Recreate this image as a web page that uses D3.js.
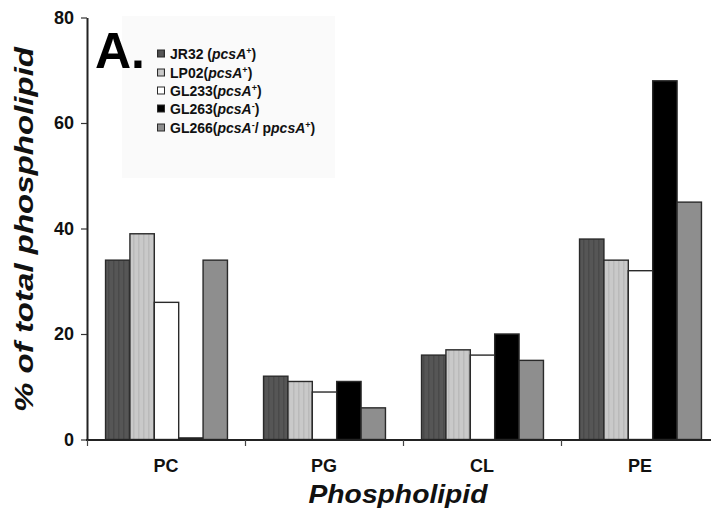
<!DOCTYPE html>
<html>
<head>
<meta charset="utf-8">
<script src="https://cdn.jsdelivr.net/npm/d3@7"></script>
<style>
  html, body { margin: 0; padding: 0; background: #fff; }
  svg { display: block; font-family: "Liberation Sans", Arial, sans-serif; }
</style>
</head>
<body>
<svg id="chart" width="711" height="518"></svg>
<script>
const categories = ["PC", "PG", "CL", "PE"];
const seriesNames = ["JR32", "LP02", "GL233", "GL263", "GL266"];
const JR32  = [34, 12, 16, 38];
const LP02  = [39, 11, 17, 34];
const GL233 = [26, 9, 16, 32];
const GL263 = [0.3, 11, 20, 68];
const GL266 = [34, 6, 15, 45];
const seriesValues = [JR32, LP02, GL233, GL263, GL266];
const yTicks = [0, 20, 40, 60, 80];
const legendLabels = [
  [{t:"JR32 ("}, {t:"pcsA", i:true}, {t:"+", s:true}, {t:")"}],
  [{t:"LP02("}, {t:"pcsA", i:true}, {t:"+", s:true}, {t:")"}],
  [{t:"GL233("}, {t:"pcsA", i:true}, {t:"+", s:true}, {t:")"}],
  [{t:"GL263("}, {t:"pcsA", i:true}, {t:"-", s:true}, {t:")"}],
  [{t:"GL266("}, {t:"pcsA", i:true}, {t:"-", s:true}, {t:"/ p"}, {t:"pcsA", i:true}, {t:"+", s:true}, {t:")"}]
];
const fills = ["url(#pDark)", "url(#pLight)", "#ffffff", "#000000", "url(#pMid)"];

const svg = d3.select("#chart");
const defs = svg.append("defs");
function stripe(id, base, line) {
  const p = defs.append("pattern").attr("id", id).attr("patternUnits", "userSpaceOnUse")
    .attr("width", 5).attr("height", 5);
  p.append("rect").attr("width", 5).attr("height", 5).attr("fill", base);
  if (line) p.append("rect").attr("x", 3).attr("width", 1.5).attr("height", 5).attr("fill", line);
}
stripe("pDark", "#565656", "#4a4a4a");
stripe("pLight", "#c9c9c9", "#bababa");
stripe("pMid", "#8e8e8e", null);

const x0 = d3.scaleBand().domain(categories).range([87.5, 719.5]).paddingInner(0).paddingOuter(0);
const x1 = d3.scaleBand().domain(seriesNames).range([0, x0.bandwidth()]).paddingInner(0).paddingOuter(0.74);
const y = d3.scaleLinear().domain([0, 80]).range([439.5, 17.5]);

// faint legend backdrop
svg.append("rect").attr("x", 122).attr("y", 16).attr("width", 213).attr("height", 162).attr("fill", "#fafafa");

// bars
const g = svg.append("g");
seriesNames.forEach((s, si) => {
  g.selectAll(null).data(seriesValues[si]).enter().append("rect")
    .attr("x", (d, i) => x0(categories[i]) + x1(s))
    .attr("y", d => y(d))
    .attr("width", x1.bandwidth())
    .attr("height", d => y(0) - y(d))
    .attr("fill", fills[si])
    .attr("stroke", "#2a2a2a")
    .attr("stroke-width", 1.4);
});

// y axis
const yAxis = svg.append("g").attr("transform", "translate(87,0)")
  .call(d3.axisLeft(y).tickValues(yTicks).tickSize(6).tickPadding(7).tickSizeOuter(0));
yAxis.select(".domain").attr("stroke", "#222").attr("stroke-width", 2);
yAxis.selectAll(".tick line").attr("stroke", "#333").attr("stroke-width", 1.2);
yAxis.selectAll(".tick text").attr("font-size", 18).attr("font-weight", "bold").attr("fill", "#111")
  .attr("font-family", "Liberation Sans, Arial, sans-serif");

// x axis
const xAxisG = svg.append("g").attr("transform", "translate(0,440)");
xAxisG.append("line").attr("x1", 86).attr("x2", 711).attr("y1", 0).attr("y2", 0)
  .attr("stroke", "#222").attr("stroke-width", 2);
xAxisG.selectAll(".xt").data(categories).enter().append("line")
  .attr("x1", d => x0(d)).attr("x2", d => x0(d)).attr("y1", 0).attr("y2", 6)
  .attr("stroke", "#444").attr("stroke-width", 1.2);
xAxisG.selectAll(".xl").data(categories).enter().append("text")
  .attr("x", d => x0(d) + x0.bandwidth() / 2 - 0.5)
  .attr("y", 32)
  .attr("text-anchor", "middle")
  .attr("font-size", 18).attr("font-weight", "bold").attr("fill", "#111")
  .text(d => d);

// axis titles
svg.append("text").attr("x", 398).attr("y", 503).attr("text-anchor", "middle")
  .attr("font-size", 26).attr("font-weight", "bold").attr("font-style", "italic").attr("fill", "#111")
  .attr("textLength", 179).attr("lengthAdjust", "spacingAndGlyphs")
  .text("Phospholipid");
svg.append("text").attr("transform", "translate(33,229.5) rotate(-90)").attr("text-anchor", "middle")
  .attr("font-size", 25).attr("font-weight", "bold").attr("font-style", "italic").attr("fill", "#111")
  .attr("textLength", 365).attr("lengthAdjust", "spacingAndGlyphs")
  .text("% of total phospholipid");

// panel label
svg.append("text").attr("x", 95).attr("y", 68).attr("font-size", 50).attr("font-weight", "bold")
  .attr("fill", "#000").text("A.");

// legend
const legendY = [54, 73, 91, 109, 128];
const lg = svg.append("g");
seriesNames.forEach((s, i) => {
  lg.append("rect").attr("x", 157.5).attr("y", legendY[i] - 4).attr("width", 7).attr("height", 7)
    .attr("fill", fills[i]).attr("stroke", "#2a2a2a").attr("stroke-width", 1);
  const t = lg.append("text").attr("x", 170).attr("y", legendY[i] + 5)
    .attr("font-size", 14).attr("font-weight", "bold").attr("fill", "#111");
  legendLabels[i].forEach(part => {
    const ts = t.append("tspan").text(part.t);
    if (part.i) ts.attr("font-style", "italic");
    if (part.s) ts.attr("font-size", 9).attr("baseline-shift", "super");
  });
});
</script>
</body>
</html>
